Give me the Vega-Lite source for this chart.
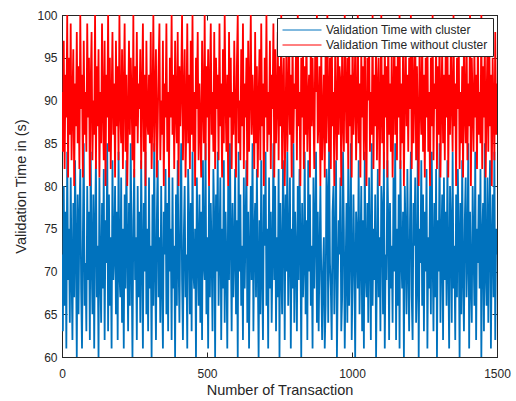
{
"$schema":"https://vega.github.io/schema/vega-lite/v6.json",
"width":435,"height":342,
"autosize":{"type":"none"},
"padding":{"left":62,"top":15,"right":19,"bottom":44},
"background":"white",
"config":{"view":{"stroke":"#262626","strokeWidth":1},"font":"Liberation Sans",
 "axis":{"grid":false,"domainColor":"#262626","tickColor":"#262626","labelColor":"#262626","titleColor":"#262626","labelFontSize":12,"titleFontSize":14.5,"titleFontWeight":"normal","tickSize":-5,"labelFlush":false,"format":"d"}},
"data":{"values":[
{"x":0,"w":72,"o":91},{"x":3,"w":63,"o":84},{"x":6,"w":80,"o":97},{"x":9,"w":66,"o":82},{"x":12,"w":77,"o":93},{"x":15,"w":61,"o":88},{"x":18,"w":84,"o":100},{"x":21,"w":69,"o":81},{"x":24,"w":75,"o":95},{"x":27,"w":64,"o":86},{"x":30,"w":81,"o":99},{"x":33,"w":70,"o":83},{"x":36,"w":62,"o":90},{"x":39,"w":78,"o":96},{"x":42,"w":67,"o":80},{"x":45,"w":83,"o":92},{"x":48,"w":73,"o":87},{"x":51,"w":60,"o":98},{"x":54,"w":79,"o":85},{"x":57,"w":65,"o":94},
{"x":60,"w":76,"o":82},{"x":63,"w":82,"o":100},{"x":66,"w":68,"o":89},{"x":69,"w":61,"o":93},{"x":72,"w":74,"o":81},{"x":75,"w":85,"o":97},{"x":78,"w":66,"o":86},{"x":81,"w":71,"o":91},{"x":84,"w":63,"o":84},{"x":87,"w":80,"o":99},{"x":90,"w":69,"o":88},{"x":93,"w":77,"o":95},{"x":96,"w":62,"o":80},{"x":99,"w":84,"o":92},{"x":102,"w":72,"o":98},{"x":105,"w":65,"o":83},{"x":108,"w":79,"o":90},{"x":111,"w":61,"o":86},{"x":114,"w":75,"o":100},{"x":117,"w":83,"o":82},
{"x":120,"w":67,"o":94},{"x":123,"w":73,"o":87},{"x":126,"w":60,"o":96},{"x":129,"w":81,"o":81},{"x":132,"w":70,"o":91},{"x":135,"w":64,"o":85},{"x":138,"w":78,"o":99},{"x":141,"w":68,"o":89},{"x":144,"w":82,"o":83},{"x":147,"w":62,"o":97},{"x":150,"w":76,"o":80},{"x":153,"w":71,"o":93},{"x":156,"w":85,"o":88},{"x":159,"w":63,"o":100},{"x":162,"w":79,"o":84},{"x":165,"w":66,"o":95},{"x":168,"w":74,"o":82},{"x":171,"w":61,"o":90},{"x":174,"w":83,"o":98},{"x":177,"w":69,"o":86},
{"x":180,"w":72,"o":92},{"x":183,"w":80,"o":81},{"x":186,"w":65,"o":97},{"x":189,"w":77,"o":87},{"x":192,"w":62,"o":94},{"x":195,"w":84,"o":83},{"x":198,"w":70,"o":100},{"x":201,"w":67,"o":89},{"x":204,"w":81,"o":85},{"x":207,"w":64,"o":96},{"x":210,"w":75,"o":82},{"x":213,"w":61,"o":91},{"x":216,"w":79,"o":99},{"x":219,"w":68,"o":84},{"x":222,"w":83,"o":93},{"x":225,"w":73,"o":80},{"x":228,"w":63,"o":88},{"x":231,"w":78,"o":97},{"x":234,"w":66,"o":86},{"x":237,"w":85,"o":95},
{"x":240,"w":71,"o":90},{"x":243,"w":60,"o":83},{"x":246,"w":76,"o":100},{"x":249,"w":82,"o":81},{"x":252,"w":69,"o":94},{"x":255,"w":74,"o":87},{"x":258,"w":62,"o":98},{"x":261,"w":80,"o":85},{"x":264,"w":67,"o":92},{"x":267,"w":77,"o":89},{"x":270,"w":64,"o":96},{"x":273,"w":83,"o":82},{"x":276,"w":72,"o":91},{"x":279,"w":61,"o":99},{"x":282,"w":78,"o":84},{"x":285,"w":70,"o":93},{"x":288,"w":84,"o":80},{"x":291,"w":65,"o":97},{"x":294,"w":75,"o":88},{"x":297,"w":63,"o":86},
{"x":300,"w":81,"o":93},{"x":303,"w":68,"o":85},{"x":306,"w":73,"o":98},{"x":309,"w":60,"o":82},{"x":312,"w":79,"o":89},{"x":315,"w":66,"o":100},{"x":318,"w":85,"o":84},{"x":321,"w":71,"o":91},{"x":324,"w":62,"o":96},{"x":327,"w":76,"o":81},{"x":330,"w":83,"o":87},{"x":333,"w":67,"o":94},{"x":336,"w":74,"o":99},{"x":339,"w":64,"o":83},{"x":342,"w":80,"o":90},{"x":345,"w":69,"o":86},{"x":348,"w":61,"o":97},{"x":351,"w":77,"o":80},{"x":354,"w":72,"o":92},{"x":357,"w":82,"o":88},
{"x":360,"w":65,"o":99},{"x":363,"w":78,"o":84},{"x":366,"w":63,"o":91},{"x":369,"w":84,"o":81},{"x":372,"w":70,"o":95},{"x":375,"w":75,"o":88},{"x":378,"w":62,"o":100},{"x":381,"w":81,"o":86},{"x":384,"w":68,"o":93},{"x":387,"w":73,"o":82},{"x":390,"w":60,"o":97},{"x":393,"w":79,"o":89},{"x":396,"w":66,"o":85},{"x":399,"w":83,"o":98},{"x":402,"w":71,"o":80},{"x":405,"w":64,"o":94},{"x":408,"w":77,"o":87},{"x":411,"w":85,"o":92},{"x":414,"w":69,"o":100},{"x":417,"w":62,"o":83},
{"x":420,"w":74,"o":90},{"x":423,"w":80,"o":96},{"x":426,"w":67,"o":81},{"x":429,"w":72,"o":88},{"x":432,"w":61,"o":99},{"x":435,"w":82,"o":85},{"x":438,"w":76,"o":93},{"x":441,"w":65,"o":82},{"x":444,"w":78,"o":97},{"x":447,"w":63,"o":86},{"x":450,"w":84,"o":100},{"x":453,"w":70,"o":84},{"x":456,"w":68,"o":91},{"x":459,"w":75,"o":80},{"x":462,"w":60,"o":95},{"x":465,"w":81,"o":89},{"x":468,"w":73,"o":98},{"x":471,"w":66,"o":83},{"x":474,"w":79,"o":92},{"x":477,"w":64,"o":87},
{"x":480,"w":77,"o":81},{"x":483,"w":62,"o":97},{"x":486,"w":83,"o":90},{"x":489,"w":71,"o":85},{"x":492,"w":69,"o":100},{"x":495,"w":85,"o":83},{"x":498,"w":65,"o":94},{"x":501,"w":74,"o":88},{"x":504,"w":61,"o":96},{"x":507,"w":80,"o":80},{"x":510,"w":67,"o":92},{"x":513,"w":78,"o":99},{"x":516,"w":72,"o":86},{"x":519,"w":63,"o":91},{"x":522,"w":82,"o":84},{"x":525,"w":76,"o":98},{"x":528,"w":60,"o":82},{"x":531,"w":79,"o":95},{"x":534,"w":70,"o":89},{"x":537,"w":84,"o":93},
{"x":540,"w":66,"o":83},{"x":543,"w":73,"o":99},{"x":546,"w":81,"o":87},{"x":549,"w":62,"o":92},{"x":552,"w":75,"o":81},{"x":555,"w":68,"o":96},{"x":558,"w":83,"o":85},{"x":561,"w":64,"o":100},{"x":564,"w":77,"o":90},{"x":567,"w":71,"o":84},{"x":570,"w":61,"o":93},{"x":573,"w":80,"o":80},{"x":576,"w":69,"o":98},{"x":579,"w":85,"o":88},{"x":582,"w":74,"o":95},{"x":585,"w":63,"o":82},{"x":588,"w":78,"o":91},{"x":591,"w":67,"o":86},{"x":594,"w":72,"o":97},{"x":597,"w":82,"o":89},
{"x":600,"w":65,"o":81},{"x":603,"w":76,"o":94},{"x":606,"w":60,"o":100},{"x":609,"w":84,"o":85},{"x":612,"w":70,"o":90},{"x":615,"w":79,"o":83},{"x":618,"w":66,"o":96},{"x":621,"w":73,"o":87},{"x":624,"w":62,"o":99},{"x":627,"w":81,"o":82},{"x":630,"w":68,"o":92},{"x":633,"w":75,"o":88},{"x":636,"w":83,"o":95},{"x":639,"w":64,"o":80},{"x":642,"w":77,"o":97},{"x":645,"w":61,"o":84},{"x":648,"w":72,"o":91},{"x":651,"w":80,"o":100},{"x":654,"w":69,"o":86},{"x":657,"w":85,"o":93},
{"x":660,"w":63,"o":89},{"x":663,"w":74,"o":82},{"x":666,"w":78,"o":98},{"x":669,"w":67,"o":85},{"x":672,"w":82,"o":94},{"x":675,"w":71,"o":81},{"x":678,"w":60,"o":90},{"x":681,"w":76,"o":96},{"x":684,"w":65,"o":83},{"x":687,"w":83,"o":99},{"x":690,"w":70,"o":87},{"x":693,"w":62,"o":92},{"x":696,"w":79,"o":80},{"x":699,"w":73,"o":95},{"x":702,"w":84,"o":88},{"x":705,"w":66,"o":100},{"x":708,"w":75,"o":84},{"x":711,"w":61,"o":91},{"x":714,"w":81,"o":86},{"x":717,"w":68,"o":97},
{"x":720,"w":77,"o":82},{"x":723,"w":64,"o":93},{"x":726,"w":72,"o":89},{"x":729,"w":85,"o":99},{"x":732,"w":69,"o":81},{"x":735,"w":80,"o":96},{"x":738,"w":63,"o":85},{"x":741,"w":74,"o":90},{"x":744,"w":67,"o":98},{"x":747,"w":82,"o":83},{"x":750,"w":60,"o":94},{"x":753,"w":78,"o":87},{"x":756,"w":71,"o":100},{"x":759,"w":65,"o":82},{"x":762,"w":83,"o":91},{"x":765,"w":76,"o":95},{"x":768,"w":62,"o":80},{"x":771,"w":79,"o":88},{"x":774,"w":70,"o":97},{"x":777,"w":84,"o":84},
{"x":780,"w":66,"o":90},{"x":783,"w":73,"o":99},{"x":786,"w":81,"o":86},{"x":789,"w":61,"o":93},{"x":792,"w":75,"o":81},{"x":795,"w":68,"o":98},{"x":798,"w":85,"o":85},{"x":801,"w":64,"o":92},{"x":804,"w":77,"o":89},{"x":807,"w":72,"o":96},{"x":810,"w":63,"o":83},{"x":813,"w":80,"o":100},{"x":816,"w":69,"o":87},{"x":819,"w":82,"o":91},{"x":822,"w":74,"o":80},{"x":825,"w":60,"o":95},{"x":828,"w":78,"o":88},{"x":831,"w":67,"o":97},{"x":834,"w":71,"o":82},{"x":837,"w":84,"o":94},
{"x":840,"w":65,"o":86},{"x":843,"w":76,"o":99},{"x":846,"w":62,"o":84},{"x":849,"w":83,"o":90},{"x":852,"w":70,"o":93},{"x":855,"w":79,"o":81},{"x":858,"w":66,"o":98},{"x":861,"w":73,"o":87},{"x":864,"w":61,"o":95},{"x":867,"w":81,"o":89},{"x":870,"w":68,"o":82},{"x":873,"w":75,"o":96},{"x":876,"w":84,"o":91},{"x":879,"w":64,"o":100},{"x":882,"w":77,"o":85},{"x":885,"w":63,"o":88},{"x":888,"w":72,"o":94},{"x":891,"w":80,"o":80},{"x":894,"w":69,"o":97},{"x":897,"w":62,"o":83},
{"x":900,"w":70,"o":88},{"x":903,"w":74,"o":93},{"x":906,"w":61,"o":81},{"x":909,"w":66,"o":97},{"x":912,"w":82,"o":85},{"x":915,"w":79,"o":100},{"x":918,"w":64,"o":90},{"x":921,"w":85,"o":84},{"x":924,"w":71,"o":95},{"x":927,"w":68,"o":82},{"x":930,"w":62,"o":99},{"x":933,"w":77,"o":87},{"x":936,"w":80,"o":91},{"x":939,"w":65,"o":80},{"x":942,"w":73,"o":96},{"x":945,"w":83,"o":89},{"x":948,"w":60,"o":83},{"x":951,"w":69,"o":98},{"x":954,"w":76,"o":86},{"x":957,"w":72,"o":94},
{"x":960,"w":81,"o":92},{"x":963,"w":63,"o":80},{"x":966,"w":67,"o":97},{"x":969,"w":84,"o":88},{"x":972,"w":75,"o":84},{"x":975,"w":61,"o":100},{"x":978,"w":70,"o":91},{"x":981,"w":78,"o":85},{"x":984,"w":64,"o":95},{"x":987,"w":82,"o":82},{"x":990,"w":66,"o":98},{"x":993,"w":73,"o":87},{"x":996,"w":85,"o":93},{"x":999,"w":62,"o":81},{"x":1002,"w":69,"o":99},{"x":1005,"w":79,"o":86},{"x":1008,"w":71,"o":90},{"x":1011,"w":60,"o":96},{"x":1014,"w":77,"o":83},{"x":1017,"w":74,"o":89},
{"x":1020,"w":68,"o":100},{"x":1023,"w":83,"o":85},{"x":1026,"w":65,"o":92},{"x":1029,"w":72,"o":81},{"x":1032,"w":80,"o":96},{"x":1035,"w":63,"o":88},{"x":1038,"w":76,"o":94},{"x":1041,"w":61,"o":83},{"x":1044,"w":84,"o":99},{"x":1047,"w":70,"o":87},{"x":1050,"w":67,"o":80},{"x":1053,"w":78,"o":95},{"x":1056,"w":64,"o":90},{"x":1059,"w":81,"o":97},{"x":1062,"w":73,"o":84},{"x":1065,"w":62,"o":91},{"x":1068,"w":85,"o":86},{"x":1071,"w":66,"o":100},{"x":1074,"w":75,"o":82},{"x":1077,"w":69,"o":93},
{"x":1080,"w":79,"o":87},{"x":1083,"w":60,"o":98},{"x":1086,"w":71,"o":83},{"x":1089,"w":82,"o":91},{"x":1092,"w":67,"o":95},{"x":1095,"w":74,"o":80},{"x":1098,"w":63,"o":89},{"x":1101,"w":80,"o":100},{"x":1104,"w":77,"o":85},{"x":1107,"w":65,"o":93},{"x":1110,"w":84,"o":82},{"x":1113,"w":61,"o":97},{"x":1116,"w":72,"o":88},{"x":1119,"w":69,"o":94},{"x":1122,"w":83,"o":81},{"x":1125,"w":76,"o":99},{"x":1128,"w":62,"o":86},{"x":1131,"w":78,"o":92},{"x":1134,"w":68,"o":84},{"x":1137,"w":73,"o":96},
{"x":1140,"w":64,"o":81},{"x":1143,"w":81,"o":90},{"x":1146,"w":70,"o":99},{"x":1149,"w":85,"o":86},{"x":1152,"w":62,"o":94},{"x":1155,"w":75,"o":83},{"x":1158,"w":66,"o":97},{"x":1161,"w":79,"o":88},{"x":1164,"w":61,"o":100},{"x":1167,"w":83,"o":82},{"x":1170,"w":72,"o":92},{"x":1173,"w":68,"o":85},{"x":1176,"w":77,"o":96},{"x":1179,"w":60,"o":80},{"x":1182,"w":80,"o":91},{"x":1185,"w":74,"o":98},{"x":1188,"w":65,"o":87},{"x":1191,"w":82,"o":93},{"x":1194,"w":71,"o":84},{"x":1197,"w":63,"o":95},
{"x":1200,"w":76,"o":89},{"x":1203,"w":84,"o":100},{"x":1206,"w":67,"o":82},{"x":1209,"w":62,"o":96},{"x":1212,"w":78,"o":85},{"x":1215,"w":73,"o":91},{"x":1218,"w":81,"o":99},{"x":1221,"w":64,"o":83},{"x":1224,"w":69,"o":94},{"x":1227,"w":85,"o":87},{"x":1230,"w":60,"o":80},{"x":1233,"w":75,"o":97},{"x":1236,"w":71,"o":90},{"x":1239,"w":83,"o":86},{"x":1242,"w":66,"o":98},{"x":1245,"w":79,"o":84},{"x":1248,"w":63,"o":93},{"x":1251,"w":77,"o":81},{"x":1254,"w":70,"o":95},{"x":1257,"w":82,"o":88},
{"x":1260,"w":61,"o":98},{"x":1263,"w":74,"o":84},{"x":1266,"w":68,"o":91},{"x":1269,"w":80,"o":80},{"x":1272,"w":65,"o":95},{"x":1275,"w":84,"o":87},{"x":1278,"w":72,"o":100},{"x":1281,"w":63,"o":83},{"x":1284,"w":78,"o":92},{"x":1287,"w":67,"o":89},{"x":1290,"w":82,"o":97},{"x":1293,"w":60,"o":82},{"x":1296,"w":76,"o":94},{"x":1299,"w":70,"o":86},{"x":1302,"w":85,"o":99},{"x":1305,"w":64,"o":81},{"x":1308,"w":73,"o":90},{"x":1311,"w":79,"o":96},{"x":1314,"w":62,"o":85},{"x":1317,"w":81,"o":93},
{"x":1320,"w":69,"o":83},{"x":1323,"w":77,"o":96},{"x":1326,"w":66,"o":88},{"x":1329,"w":83,"o":99},{"x":1332,"w":71,"o":81},{"x":1335,"w":61,"o":93},{"x":1338,"w":80,"o":86},{"x":1341,"w":75,"o":97},{"x":1344,"w":64,"o":90},{"x":1347,"w":84,"o":84},{"x":1350,"w":68,"o":100},{"x":1353,"w":73,"o":87},{"x":1356,"w":62,"o":92},{"x":1359,"w":79,"o":80},{"x":1362,"w":67,"o":95},{"x":1365,"w":82,"o":89},{"x":1368,"w":74,"o":98},{"x":1371,"w":60,"o":82},{"x":1374,"w":78,"o":91},{"x":1377,"w":65,"o":85},
{"x":1380,"w":83,"o":94},{"x":1383,"w":70,"o":81},{"x":1386,"w":63,"o":97},{"x":1389,"w":76,"o":89},{"x":1392,"w":81,"o":85},{"x":1395,"w":67,"o":99},{"x":1398,"w":72,"o":83},{"x":1401,"w":85,"o":92},{"x":1404,"w":61,"o":87},{"x":1407,"w":77,"o":100},{"x":1410,"w":69,"o":80},{"x":1413,"w":64,"o":95},{"x":1416,"w":80,"o":90},{"x":1419,"w":73,"o":84},{"x":1422,"w":66,"o":96},{"x":1425,"w":84,"o":88},{"x":1428,"w":62,"o":93},{"x":1431,"w":75,"o":82},{"x":1434,"w":71,"o":98},{"x":1437,"w":79,"o":86},
{"x":1440,"w":68,"o":91},{"x":1443,"w":82,"o":85},{"x":1446,"w":60,"o":100},{"x":1449,"w":74,"o":82},{"x":1452,"w":78,"o":94},{"x":1455,"w":63,"o":88},{"x":1458,"w":85,"o":97},{"x":1461,"w":70,"o":81},{"x":1464,"w":66,"o":90},{"x":1467,"w":81,"o":96},{"x":1470,"w":64,"o":84},{"x":1473,"w":76,"o":99},{"x":1476,"w":83,"o":87},{"x":1479,"w":61,"o":93},{"x":1482,"w":73,"o":80},{"x":1485,"w":79,"o":95},{"x":1488,"w":67,"o":89},{"x":1491,"w":84,"o":83},{"x":1494,"w":62,"o":98},{"x":1497,"w":75,"o":86},
{"x":1500,"w":72,"o":92}
]},
"layer":[
{"mark":{"type":"line","strokeWidth":1.8,"clip":true},
 "encoding":{
  "x":{"field":"x","type":"quantitative","scale":{"domain":[0,1500],"nice":false},"axis":{"orient":"bottom","values":[0,500,1000,1500],"labelPadding":16,"title":"Number of Transaction","titlePadding":4}},
  "y":{"field":"w","type":"quantitative","scale":{"domain":[60,100],"nice":false},"axis":{"orient":"left","values":[60,65,70,75,80,85,90,95,100],"labelPadding":10,"title":"Validation Time in (s)","titlePadding":8}},
  "color":{"datum":"Validation Time with cluster","type":"nominal","scale":{"domain":["Validation Time with cluster","Validation Time without cluster"],"range":["#0072BD","#FF0000"]},
   "legend":{"orient":"none","legendX":215,"legendY":3,"title":null,"symbolType":"M-1,0H5","symbolSize":169,"symbolStrokeWidth":1,"labelOffset":30,"labelLimit":400,"labelFontSize":12,"labelColor":"#262626","fillColor":"white","strokeColor":"#262626","padding":5,"rowPadding":2}}
 }},
{"mark":{"type":"line","strokeWidth":1.8,"clip":true},
 "encoding":{
  "x":{"field":"x","type":"quantitative","scale":{"domain":[0,1500],"nice":false},"axis":{"orient":"top","values":[0,500,1000,1500],"labels":false,"title":null}},
  "y":{"field":"o","type":"quantitative","scale":{"domain":[60,100],"nice":false},"axis":{"orient":"right","values":[60,65,70,75,80,85,90,95,100],"labels":false,"title":null}},
  "color":{"datum":"Validation Time without cluster","type":"nominal"}
 }}
],
"resolve":{"axis":{"x":"independent","y":"independent"}}
}
